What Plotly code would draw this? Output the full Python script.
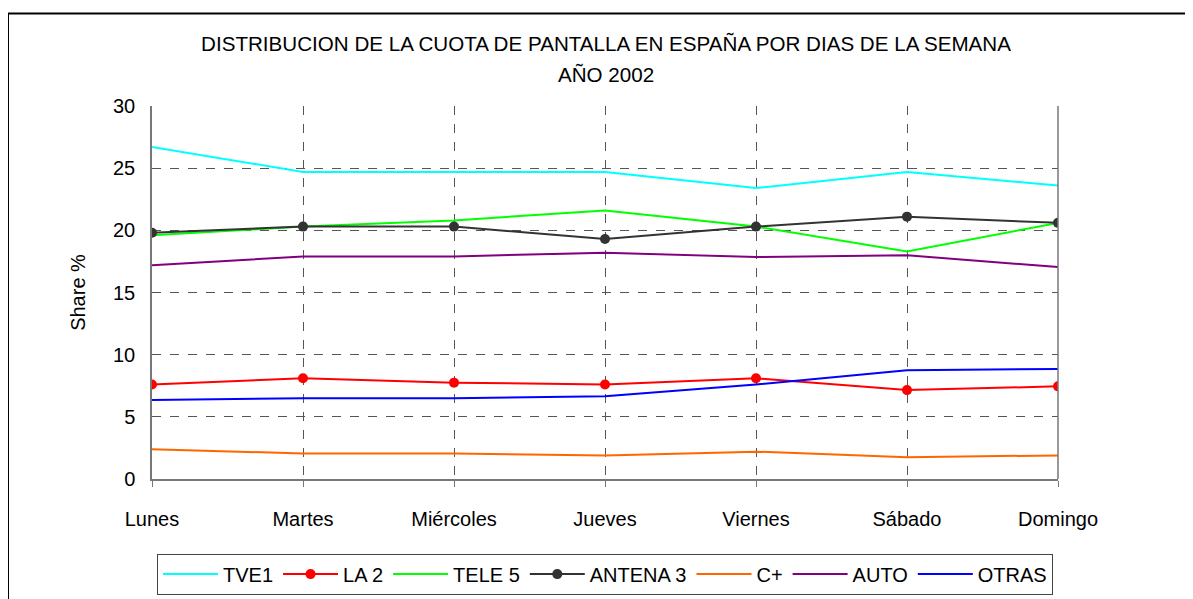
import plotly.graph_objects as go

dias = ["Lunes", "Martes", "Miércoles", "Jueves", "Viernes", "Sábado", "Domingo"]

tve1 = [26.7, 24.7, 24.7, 24.7, 23.4, 24.7, 23.6]
la2 = [7.6, 8.1, 7.75, 7.6, 8.1, 7.15, 7.45]
tele5 = [19.6, 20.3, 20.8, 21.6, 20.3, 18.3, 20.6]
antena3 = [19.8, 20.3, 20.3, 19.3, 20.3, 21.1, 20.6]
cplus = [2.4, 2.05, 2.05, 1.9, 2.2, 1.75, 1.9]
auto = [17.2, 17.9, 17.9, 18.2, 17.85, 18.0, 17.05]
otras = [6.35, 6.5, 6.5, 6.65, 7.6, 8.75, 8.85]

title_line1 = "DISTRIBUCION DE LA CUOTA DE PANTALLA EN ESPAÑA POR DIAS DE LA SEMANA"
title_line2 = "AÑO 2002"

series = [
    ("TVE1", tve1, "#00FFFF", False),
    ("LA 2", la2, "#FF0000", True),
    ("TELE 5", tele5, "#00FF00", False),
    ("ANTENA 3", antena3, "#333333", True),
    ("C+", cplus, "#FF6600", False),
    ("AUTO", auto, "#800080", False),
    ("OTRAS", otras, "#0000FF", False),
]

FONT = "Liberation Sans, Arial, sans-serif"

fig = go.Figure()
for name, vals, color, markers in series:
    fig.add_trace(go.Scatter(
        x=dias, y=vals, name=name,
        mode="lines+markers" if markers else "lines",
        line=dict(color=color, width=2),
        marker=dict(color=color, size=10),
    ))

# page has an 8px body margin: work in figure coordinates (screen - 8)
OFF = 8
L, R, T, B = 152 - OFF, 1058 - OFF, 106 - OFF, 481 - OFF
W, H = 1193 - OFF, 599
pw, ph = R - L, B - T

fig.update_layout(
    width=W, height=H,
    margin=dict(l=L, r=W - R, t=T, b=H - B),
    paper_bgcolor="white", plot_bgcolor="white",
    font=dict(family=FONT, size=20, color="black"),
    title=dict(text=title_line1, x=(606 - OFF) / W, xanchor="center",
               y=1 - (44 - OFF) / H, yanchor="middle",
               font=dict(family=FONT, size=20.6, color="black")),
    annotations=[dict(text=title_line2, xref="paper", yref="paper",
                      x=(606 - 152) / pw, y=1 + (106 - 74) / ph,
                      xanchor="center", yanchor="middle", showarrow=False,
                      font=dict(family=FONT, size=20.6, color="black"))],
    showlegend=True,
    legend=dict(orientation="h", x=0.5, xanchor="center",
                y=(481 - 556) / ph, yanchor="top",
                bordercolor="#444444", borderwidth=1,
                font=dict(family=FONT, size=20, color="black"),
                itemwidth=55, bgcolor="white"),
    xaxis=dict(type="category", range=[0, 6],
               showgrid=True, gridcolor="#555555", griddash="dash", gridwidth=1,
               showline=True, linecolor="#777777", linewidth=1.5, mirror=False,
               ticks="outside", ticklen=6, tickcolor="#777777",
               ticklabelstandoff=15,
               tickfont=dict(family=FONT, size=20, color="black"),
               zeroline=False, fixedrange=True),
    yaxis=dict(range=[0, 30], dtick=5, tick0=0,
               showgrid=True, gridcolor="#555555", griddash="dash", gridwidth=1,
               showline=True, linecolor="#777777", linewidth=1.5,
               ticks="", ticklabelstandoff=11,
               tickfont=dict(family=FONT, size=20, color="black"),
               title=dict(text="Share %", standoff=22,
                          font=dict(family=FONT, size=20, color="black")),
               zeroline=False, fixedrange=True),
)

# right border of plot area
fig.add_shape(type="line", xref="paper", yref="paper", x0=1, x1=1, y0=0, y1=1,
              line=dict(color="#777777", width=1.5))
# outer chart border (extends beyond the visible window to right/bottom)
fig.add_shape(type="rect", xref="paper", yref="paper",
              x0=(8 - 152) / pw, x1=(1193 + 20 - 152) / pw,
              y0=(481 - (599 + 40)) / ph, y1=1 + (106 - 13) / ph,
              line=dict(color="black", width=2), fillcolor="rgba(0,0,0,0)", layer="below")

fig.write_html("out.html")
